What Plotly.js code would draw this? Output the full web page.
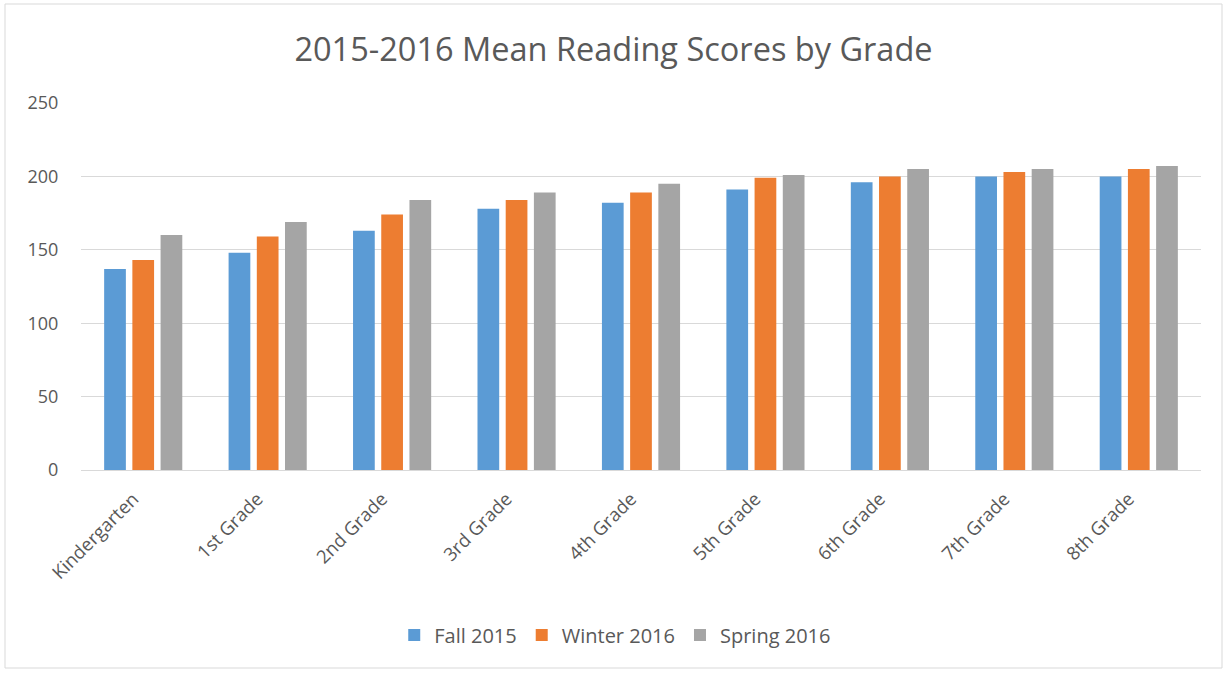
<!DOCTYPE html>
<html>
<head>
<meta charset="utf-8">
<script src="https://cdn.plot.ly/plotly-3.0.1.min.js"></script>
<style>
html,body{margin:0;padding:0;background:#fff;}
#chart{width:1227px;height:673px;}
</style>
</head>
<body>
<div id="chart"></div>
<script>
const grades = ["Kindergarten","1st Grade","2nd Grade","3rd Grade","4th Grade","5th Grade","6th Grade","7th Grade","8th Grade"];
const fall2015 = [137, 148, 163, 178, 182, 191, 196, 200, 200];
const winter2016 = [143, 159, 174, 184, 189, 199, 200, 203, 205];
const spring2016 = [160, 169, 184, 189, 195, 201, 205, 205, 207];
const seriesNames = ["Fall 2015", "Winter 2016", "Spring 2016"];
const seriesColors = ["#5B9BD5", "#ED7D31", "#A5A5A5"];
const yTicks = [0, 50, 100, 150, 200, 250];

const values = [fall2015, winter2016, spring2016];
const traces = values.map((v, i) => ({
  type: "bar",
  name: seriesNames[i],
  x: grades,
  y: v,
  marker: {color: seriesColors[i], line: {width: 0}},
  hoverinfo: "x+y+name"
}));

const textColor = "#595959";
const fontFam = "'Open Sans', 'DejaVu Sans', sans-serif";

const L = 81, R = 1227 - 1201, T = 103, B = 673 - 470;
const pw = 1227 - L - R, ph = 673 - T - B;

const layout = {
  width: 1227,
  height: 673,
  margin: {l: L, r: R, t: T, b: B, pad: 0},
  paper_bgcolor: "#ffffff",
  plot_bgcolor: "#ffffff",
  font: {family: fontFam, color: textColor},
  title: {
    text: "2015-2016 Mean Reading Scores by Grade",
    font: {family: fontFam, size: 32.5, color: textColor},
    x: 0.5, xanchor: "center",
    y: 1 - 50 / 673, yanchor: "middle", yref: "container"
  },
  barmode: "group",
  bargap: 0.32,
  bargroupgap: 0.23,
  xaxis: {
    tickangle: -45,
    tickfont: {family: fontFam, size: 18.5, color: textColor},
    ticklabelshift: -10,
    showgrid: false,
    showline: true,
    linecolor: "#D9D9D9",
    linewidth: 1,
    ticks: "outside",
    ticklen: 10,
    tickcolor: "rgba(0,0,0,0)",
    fixedrange: true
  },
  yaxis: {
    range: [0, 250],
    tickvals: yTicks,
    ticktext: yTicks.map(String),
    tickfont: {family: fontFam, size: 18, color: textColor},
    showgrid: true,
    gridcolor: "#D9D9D9",
    gridwidth: 1,
    zeroline: false,
    showline: false,
    ticks: "outside",
    ticklen: 18,
    tickcolor: "rgba(0,0,0,0)",
    fixedrange: true
  },
  legend: {
    orientation: "h",
    x: 0.477, xanchor: "center",
    y: (470 - 635) / ph, yanchor: "middle",
    font: {family: fontFam, size: 20, color: textColor},
    itemwidth: 30,
    traceorder: "normal"
  },
  shapes: [{
    type: "rect",
    xref: "paper", yref: "paper",
    x0: (5 - L) / pw, x1: (1222 - L) / pw,
    y0: (470 - 668) / ph, y1: (470 - 4) / ph,
    line: {color: "#D9D9D9", width: 1},
    fillcolor: "rgba(0,0,0,0)",
    layer: "below"
  }],
  showlegend: true
};

Plotly.newPlot("chart", traces, layout, {displayModeBar: false, responsive: false});
</script>
</body>
</html>
